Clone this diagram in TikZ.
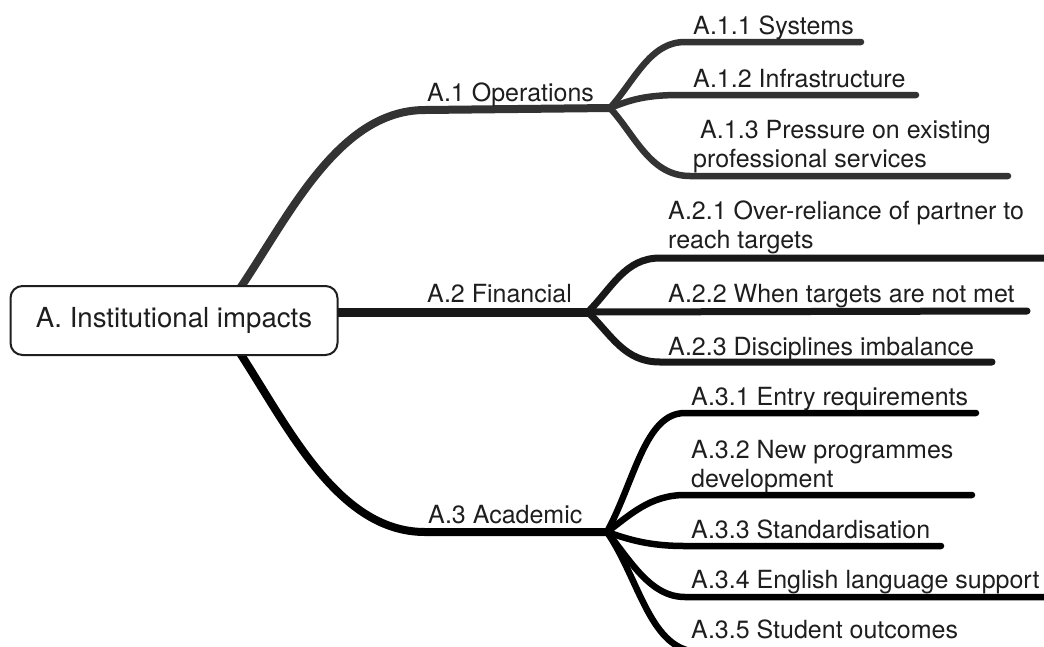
\documentclass[tikz,border=0pt]{standalone}
\usepackage{fontspec}
\setmainfont{TeX Gyre Heros}
\usetikzlibrary{backgrounds}
\definecolor{ink}{HTML}{1E1E1E}
\definecolor{brA}{HTML}{333333}
\definecolor{brB}{HTML}{181818}
\definecolor{brC}{HTML}{000000}
\begin{document}
\begin{tikzpicture}[x=1pt,y=-1pt,
  lab/.style={font=\fontsize{25}{29}\selectfont, text=ink, inner sep=0pt,
    anchor=base west, align=left},
  rootbox/.style={draw=ink, line width=2pt, rounded corners=12pt, fill=white,
    minimum width=327pt, minimum height=69pt, inner sep=0pt,
    font=\fontsize{27.6}{33}\selectfont, text=ink},
  trunk/.style={line width=8pt, line cap=round},
  twig/.style={line width=6.5pt, line cap=round}]
\useasboundingbox (0,0) rectangle (1044,646);
\clip (0,0) rectangle (1044,646);

% central topic
\node[rootbox] (root) at (174,320.5) {A. Institutional impacts};

% main topics
\node[lab] (a1) at (427,101) {A.1 Operations};
\node[lab] (a2) at (427,302) {A.2 Financial};
\node[lab] (a3) at (428,523) {A.3 Academic};

% subtopics (two-line labels sit on the baseline of their last line)
\node[lab] (a11) at (693,34) {A.1.1 Systems};
\node[lab] (a12) at (693,87) {A.1.2 Infrastructure};
\node[lab] (a13) at (693,167) {\ A.1.3 Pressure on existing\\professional services};
\node[lab] (a21) at (668,248) {A.2.1 Over-reliance of partner to\\reach targets};
\node[lab] (a22) at (668,302) {A.2.2 When targets are not met};
\node[lab] (a23) at (668,355) {A.2.3 Disciplines imbalance};
\node[lab] (a31) at (691,405) {A.3.1 Entry requirements};
\node[lab] (a32) at (691,487) {A.3.2 New programmes\\development};
\node[lab] (a33) at (691,538) {A.3.3 Standardisation};
\node[lab] (a34) at (691,588) {A.3.4 English language support};
\node[lab] (a35) at (691,638) {A.3.5 Student outcomes};

% junctions and line ends
\coordinate (j1) at (610,108);
\coordinate (j2) at (588,312);
\coordinate (j3) at (607,532);
\coordinate (e11) at (861,42);
\coordinate (e12) at (916,95);
\coordinate (e13) at (1008,176);
\coordinate (e21) at (1060,258);
\coordinate (e22) at (1027,311);
\coordinate (e23) at (992,362);
\coordinate (e31) at (976,413);
\coordinate (e32) at (972,495);
\coordinate (e33) at (941,546);
\coordinate (e34) at (1060,597);
\coordinate (e35) at (950,652);

\begin{scope}[on background layer]
  % branches from the central topic
  \draw[trunk, brA] ([xshift=60pt,yshift=-12pt]root.north)
    .. controls (285,225) and (335,110) .. (425,110) -- (j1);
  \draw[trunk, brB, line width=9pt] ([xshift=-12pt]root.east |- j2) -- (j2);
  \draw[trunk, brC] ([xshift=60pt,yshift=12pt]root.south)
    .. controls (285,420) and (335,532) .. (425,532) -- (j3);

  % A.1 subtopics
  \begin{scope}[twig, brA]
    \draw (j1) .. controls (635,80) and (650,42) .. (685,42) -- (e11);
    \draw (j1) .. controls (630,100) and (645,95) .. (680,95) -- (e12);
    \draw (j1) .. controls (635,135) and (650,176) .. (690,176) -- (e13);
  \end{scope}

  % A.2 subtopics
  \begin{scope}[twig, brB, line width=7pt]
    \draw (j2) .. controls (612,288) and (625,258) .. (660,258) -- (e21);
    \draw (j2) -- (e22);
    \draw (j2) .. controls (612,336) and (625,362) .. (660,362) -- (e23);
  \end{scope}

  % A.3 subtopics
  \begin{scope}[twig, brC]
    \draw (j3) .. controls (635,480) and (645,413) .. (685,413) -- (e31);
    \draw (j3) .. controls (630,515) and (650,495) .. (685,495) -- (e32);
    \draw (j3) .. controls (630,540) and (650,546) .. (685,546) -- (e33);
    \draw (j3) .. controls (630,560) and (650,597) .. (685,597) -- (e34);
    \draw (j3) .. controls (640,580) and (650,652) .. (700,652) -- (e35);
  \end{scope}
\end{scope}
\end{tikzpicture}
\end{document}
